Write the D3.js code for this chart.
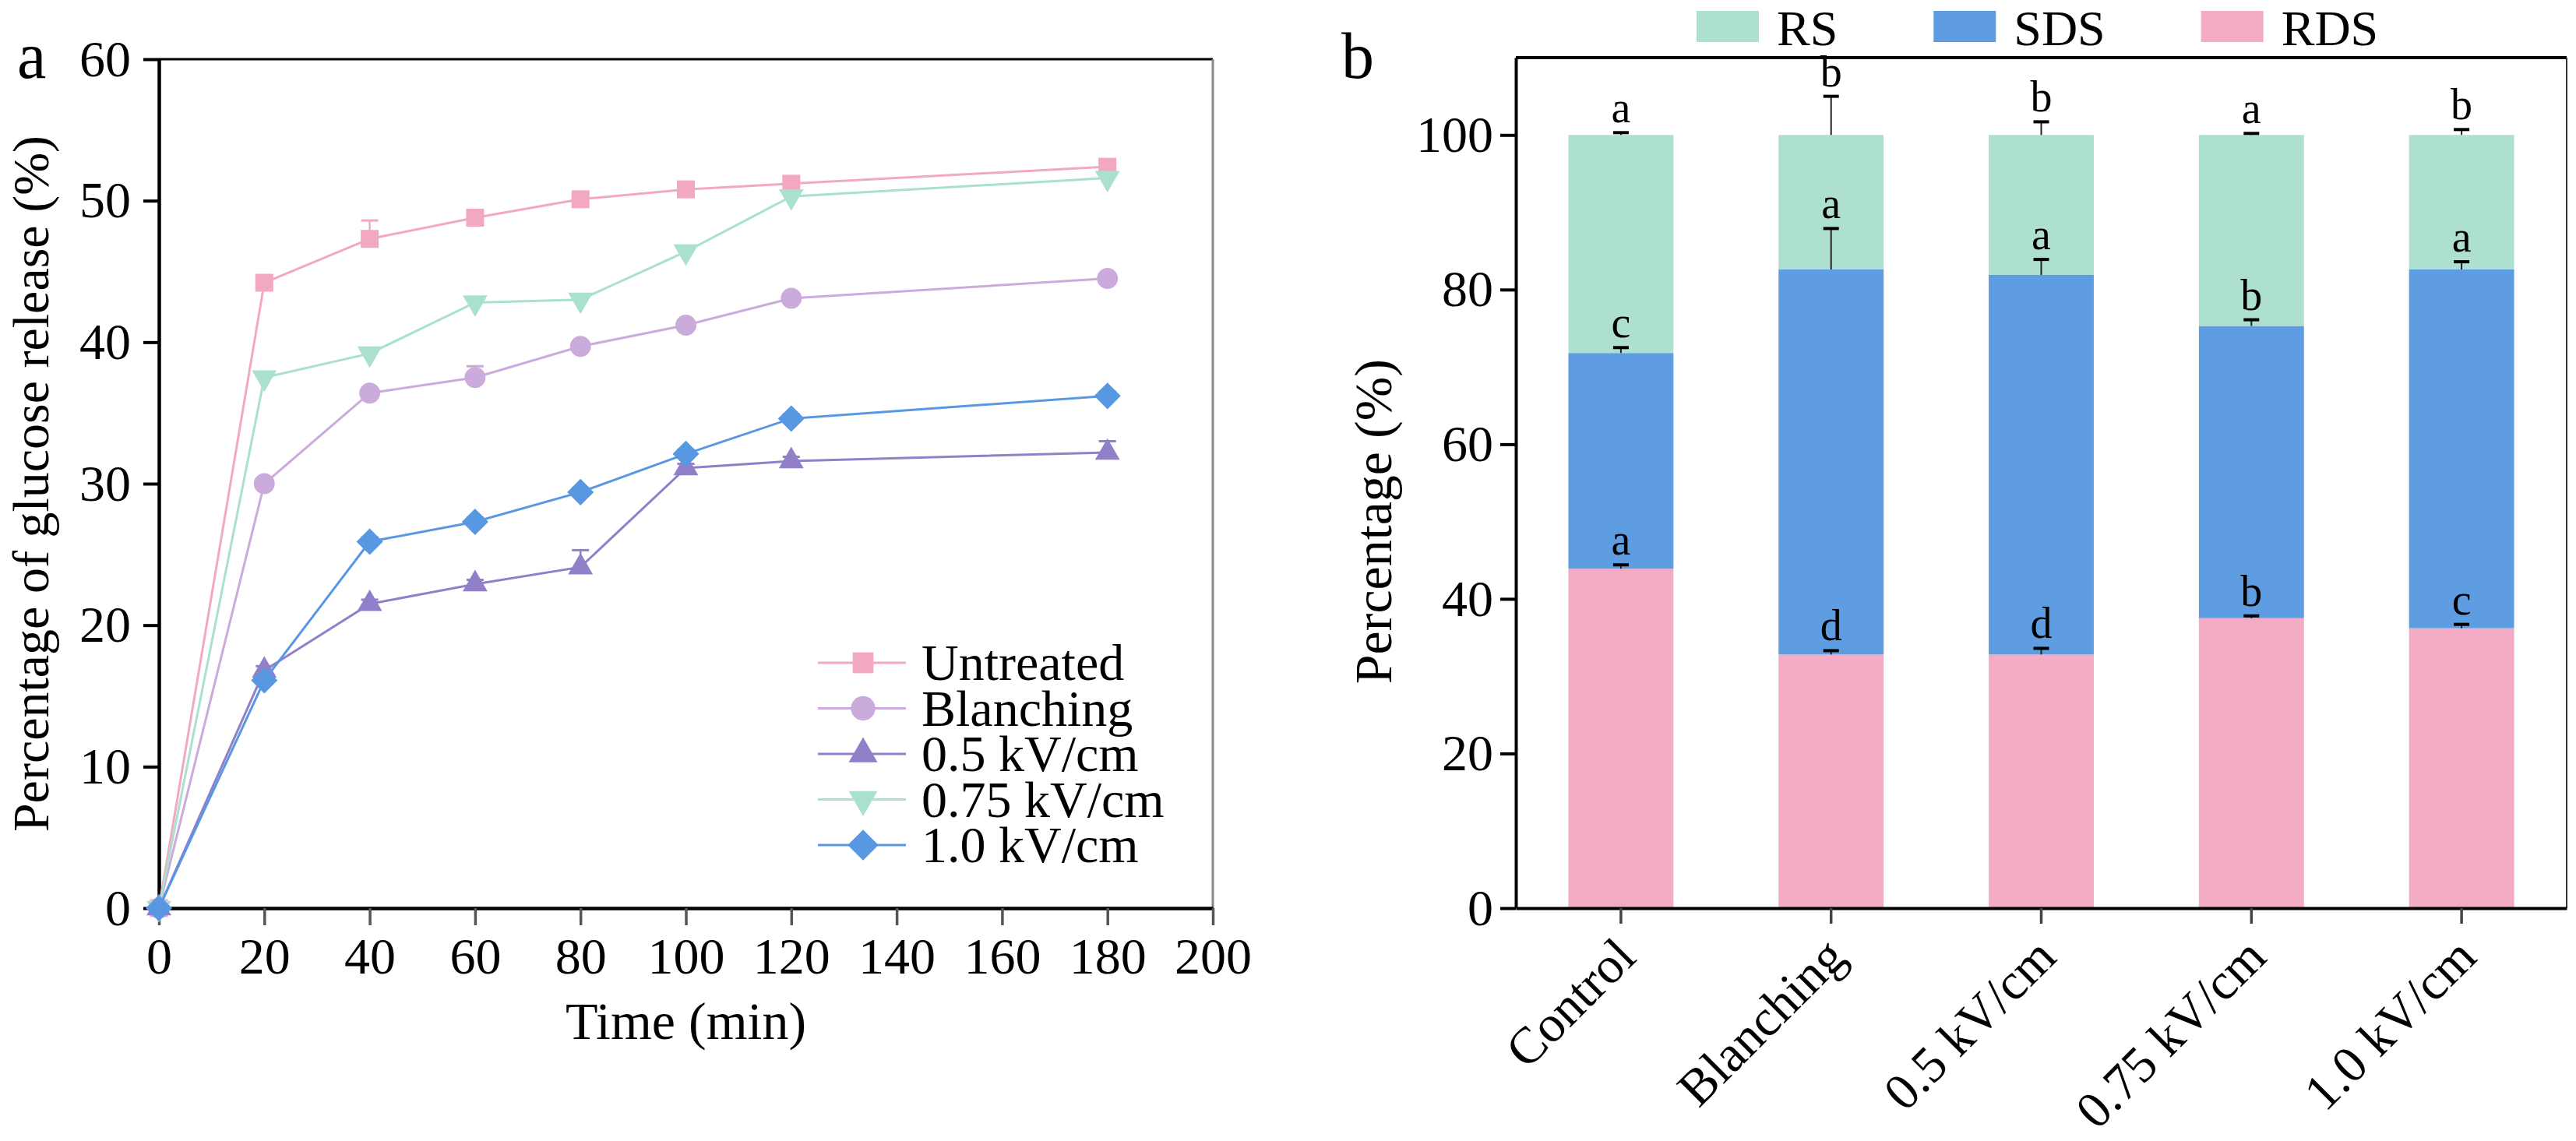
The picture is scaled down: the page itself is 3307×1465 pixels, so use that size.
<!DOCTYPE html>
<html>
<head>
<meta charset="utf-8">
<script src="https://cdn.jsdelivr.net/npm/d3@7"></script>
<style>
    body { margin: 0; background: #fff; }
    text { font-family: "Liberation Serif", "Times New Roman", serif; fill: #000; }
</style>
</head>
<body>
<svg id="chart" width="3307" height="1465"></svg>
<script>
// Panel a: glucose release over time
const times = [0, 20, 40, 60, 80, 100, 120, 180];
const seriesNames = ['Untreated', 'Blanching', '0.5 kV/cm', '0.75 kV/cm', '1.0 kV/cm'];
const untreated = [0, 44.2, 47.3, 48.8, 50.1, 50.8, 51.2, 52.4];
const blanching = [0, 30.0, 36.4, 37.5, 39.7, 41.2, 43.1, 44.5];
const kv05 = [0, 16.8, 21.5, 22.9, 24.1, 31.1, 31.6, 32.2];
const kv075 = [0, 37.5, 39.2, 42.8, 43.0, 46.4, 50.3, 51.6];
const kv10 = [0, 16.1, 25.9, 27.3, 29.4, 32.1, 34.6, 36.2];
const untreatedErr = [0, 0.3, 1.3, 0.3, 0.3, 0.3, 0.3, 0.3];
const blanchingErr = [0, 0.3, 0.3, 0.8, 0.3, 0.3, 0.3, 0.3];
const kv05Err = [0, 0.3, 0.3, 0.3, 1.2, 0.3, 0.3, 0.8];
const kv075Err = [0, 0.3, 0.3, 0.3, 0.3, 0.3, 0.3, 0.3];
const kv10Err = [0, 0.3, 0.3, 0.3, 0.3, 0.3, 0.3, 0.3];
const timeTicks = [0, 20, 40, 60, 80, 100, 120, 140, 160, 180, 200];
const releaseTicks = [0, 10, 20, 30, 40, 50, 60];

// Panel b: starch fractions
const categories = ['Control', 'Blanching', '0.5 kV/cm', '0.75 kV/cm', '1.0 kV/cm'];
const rds = [43.9, 32.8, 32.8, 37.5, 36.2];
const sds = [27.9, 49.8, 49.1, 37.8, 46.4];
const rs = [28.2, 17.4, 18.1, 24.7, 17.4];
const rdsErr = [0.5, 0.5, 0.8, 0.3, 0.5];
const sdsErr = [0.7, 5.3, 2.0, 0.8, 1.0];
const rsErr = [0.3, 5.0, 1.7, 0.2, 0.7];
const rdsLetters = ['a', 'd', 'd', 'b', 'c'];
const sdsLetters = ['c', 'a', 'a', 'b', 'a'];
const rsLetters = ['a', 'b', 'b', 'a', 'b'];
const percentTicks = [0, 20, 40, 60, 80, 100];

const svg = d3.select('#chart');
svg.append('rect').attr('width', 3307).attr('height', 1465).attr('fill', '#fff');

const fontSize = 66;

// ---------- Panel a ----------
const lineColors = ['#F3A8C2', '#CBABDC', '#9180C9', '#A9E0CF', '#5898E2'];
const symbols = [d3.symbolSquare, d3.symbolCircle, d3.symbolTriangle, d3.symbolTriangle, d3.symbolSquare];
const symbolSizes = [530, 570, 440, 440, 580];
const symbolRotate = [0, 0, 0, 180, 45];

const series = [untreated, blanching, kv05, kv075, kv10];
const seriesErr = [untreatedErr, blanchingErr, kv05Err, kv075Err, kv10Err];

const x = d3.scaleLinear().domain([0, 200]).range([204, 1557]);
const y = d3.scaleLinear().domain([0, 60]).range([1166, 76]);

const panelA = svg.append('g').attr('class', 'panel-a');

// frame: top black, right gray
panelA.append('line')
    .attr('x1', x(0)).attr('x2', x(200))
    .attr('y1', y(60)).attr('y2', y(60))
    .attr('stroke', '#000').attr('stroke-width', 3);
panelA.append('line')
    .attr('x1', x(200)).attr('x2', x(200))
    .attr('y1', y(60)).attr('y2', y(0))
    .attr('stroke', '#888').attr('stroke-width', 3);

const xAxisA = panelA.append('g')
    .attr('transform', `translate(0,${y(0)})`)
    .call(d3.axisBottom(x).tickValues(timeTicks).tickSize(22).tickSizeOuter(0).tickPadding(15));
xAxisA.selectAll('.tick line').attr('stroke', '#555').attr('stroke-width', 3.5);

const yAxisA = panelA.append('g')
    .attr('transform', `translate(${x(0)},0)`)
    .call(d3.axisLeft(y).tickValues(releaseTicks).tickSize(20).tickSizeOuter(0).tickPadding(16));
yAxisA.selectAll('.tick line').attr('stroke-width', 4);

[xAxisA, yAxisA].forEach(ax => {
    ax.select('.domain').attr('stroke', '#000').attr('stroke-width', 4.5);
    ax.selectAll('.tick text').attr('font-size', fontSize)
        .attr('font-family', '"Liberation Serif", "Times New Roman", serif');
});

panelA.append('text')
    .attr('transform', `translate(62,${(y(0) + y(60)) / 2}) rotate(-90)`)
    .attr('text-anchor', 'middle')
    .attr('font-size', 66)
    .text('Percentage of glucose release (%)');

panelA.append('text')
    .attr('x', (x(0) + x(200)) / 2)
    .attr('y', 1334)
    .attr('text-anchor', 'middle')
    .attr('font-size', 68)
    .text('Time (min)');

panelA.append('text')
    .attr('x', 22).attr('y', 100)
    .attr('font-size', 84)
    .text('a');

const line = d3.line()
    .x((d, i) => x(times[i]))
    .y(d => y(d));

series.forEach((values, s) => {
    const g = panelA.append('g');

    g.append('path')
        .datum(values)
        .attr('d', line)
        .attr('fill', 'none')
        .attr('stroke', lineColors[s])
        .attr('stroke-width', 3);

    // upper error bars
    g.selectAll('.err')
        .data(values)
        .join('g')
        .each(function (d, i) {
            const e = seriesErr[s][i];
            if (!e) return;
            const cx = x(times[i]);
            d3.select(this).append('line')
                .attr('x1', cx).attr('x2', cx)
                .attr('y1', y(d)).attr('y2', y(d + e))
                .attr('stroke', lineColors[s]).attr('stroke-width', 2.5);
            d3.select(this).append('line')
                .attr('x1', cx - 11).attr('x2', cx + 11)
                .attr('y1', y(d + e)).attr('y2', y(d + e))
                .attr('stroke', lineColors[s]).attr('stroke-width', 3);
        });

    g.selectAll('.marker')
        .data(values)
        .join('path')
        .attr('d', d3.symbol().type(symbols[s]).size(symbolSizes[s]))
        .attr('transform', (d, i) => `translate(${x(times[i])},${y(d)}) rotate(${symbolRotate[s]})`)
        .attr('fill', lineColors[s]);
});

// legend panel a
const legendA = panelA.append('g');
seriesNames.forEach((name, s) => {
    const cy = 851 + s * 58.5;
    legendA.append('line')
        .attr('x1', 1050).attr('x2', 1163)
        .attr('y1', cy).attr('y2', cy)
        .attr('stroke', lineColors[s]).attr('stroke-width', 3);
    legendA.append('path')
        .attr('d', d3.symbol().type(symbols[s]).size(symbolSizes[s] * 1.35))
        .attr('transform', `translate(1108,${cy}) rotate(${symbolRotate[s]})`)
        .attr('fill', lineColors[s]);
    legendA.append('text')
        .attr('x', 1183).attr('y', cy + 22)
        .attr('font-size', fontSize)
        .text(name);
});

// ---------- Panel b ----------
const keys = ['RDS', 'SDS', 'RS'];
const barColors = { RS: '#AEE0D2', SDS: '#5E9DE2', RDS: '#F3ABC6' };
const errs = { RDS: rdsErr, SDS: sdsErr, RS: rsErr };
const letters = { RDS: rdsLetters, SDS: sdsLetters, RS: rsLetters };

const table = categories.map((c, i) => ({ category: c, RDS: rds[i], SDS: sds[i], RS: rs[i] }));
const stacked = d3.stack().keys(keys)(table);

const xb = d3.scaleBand().domain(categories).range([1946, 3295]).paddingInner(0.5).paddingOuter(0.25);
const yb = d3.scaleLinear().domain([0, 110]).range([1166, 74]);

const panelB = svg.append('g').attr('class', 'panel-b');

panelB.append('line')
    .attr('x1', xb.range()[0]).attr('x2', xb.range()[1])
    .attr('y1', yb(110)).attr('y2', yb(110))
    .attr('stroke', '#000').attr('stroke-width', 4);
panelB.append('line')
    .attr('x1', xb.range()[1]).attr('x2', xb.range()[1])
    .attr('y1', yb(110)).attr('y2', yb(0))
    .attr('stroke', '#333').attr('stroke-width', 2);

stacked.forEach(layer => {
    panelB.append('g')
        .selectAll('rect')
        .data(layer)
        .join('rect')
        .attr('x', d => xb(d.data.category))
        .attr('y', d => yb(d[1]))
        .attr('width', xb.bandwidth())
        .attr('height', d => yb(d[0]) - yb(d[1]))
        .attr('fill', barColors[layer.key]);
});

// error bars and significance letters
stacked.forEach(layer => {
    const g = panelB.append('g');
    layer.forEach((d, i) => {
        const cx = xb(d.data.category) + xb.bandwidth() / 2;
        const top = d[1] + errs[layer.key][i];
        g.append('line')
            .attr('x1', cx).attr('x2', cx)
            .attr('y1', yb(d[1])).attr('y2', yb(top))
            .attr('stroke', '#222').attr('stroke-width', 2);
        g.append('line')
            .attr('x1', cx - 10).attr('x2', cx + 10)
            .attr('y1', yb(top)).attr('y2', yb(top))
            .attr('stroke', '#000').attr('stroke-width', 4);
        g.append('text')
            .attr('x', cx).attr('y', yb(top) - 13)
            .attr('text-anchor', 'middle')
            .attr('font-size', 56)
            .text(letters[layer.key][i]);
    });
});

const xAxisB = panelB.append('g')
    .attr('transform', `translate(0,${yb(0)})`)
    .call(d3.axisBottom(xb).tickSize(20).tickSizeOuter(0).tickPadding(0));
xAxisB.selectAll('.tick line').attr('stroke', '#444').attr('stroke-width', 3.5);
xAxisB.selectAll('.tick text')
    .attr('font-size', fontSize)
    .attr('font-family', '"Liberation Serif", "Times New Roman", serif')
    .attr('text-anchor', 'end')
    .attr('dy', null)
    .attr('y', null)
    .attr('transform', 'translate(22,66) rotate(-45)');

const yAxisB = panelB.append('g')
    .attr('transform', `translate(${xb.range()[0]},0)`)
    .call(d3.axisLeft(yb).tickValues(percentTicks).tickSize(20).tickSizeOuter(0).tickPadding(9));
yAxisB.selectAll('.tick line').attr('stroke-width', 4);
yAxisB.selectAll('.tick text')
    .attr('font-size', fontSize)
    .attr('font-family', '"Liberation Serif", "Times New Roman", serif');

[xAxisB, yAxisB].forEach(ax => {
    ax.select('.domain').attr('stroke', '#000').attr('stroke-width', 4);
});

panelB.append('text')
    .attr('transform', `translate(1786,${(yb(0) + yb(100)) / 2}) rotate(-90)`)
    .attr('text-anchor', 'middle')
    .attr('font-size', 68)
    .text('Percentage (%)');

panelB.append('text')
    .attr('x', 1722).attr('y', 100)
    .attr('font-size', 84)
    .text('b');

// legend panel b
const legendB = panelB.append('g');
let lx = 2178;
['RS', 'SDS', 'RDS'].forEach(key => {
    legendB.append('rect')
        .attr('x', lx).attr('y', 14)
        .attr('width', 80).attr('height', 40)
        .attr('fill', barColors[key]);
    const t = legendB.append('text')
        .attr('x', lx + 103).attr('y', 58)
        .attr('font-size', 64)
        .text(key);
    lx += 103 + t.node().getComputedTextLength() + 123;
});
</script>
</body>
</html>
